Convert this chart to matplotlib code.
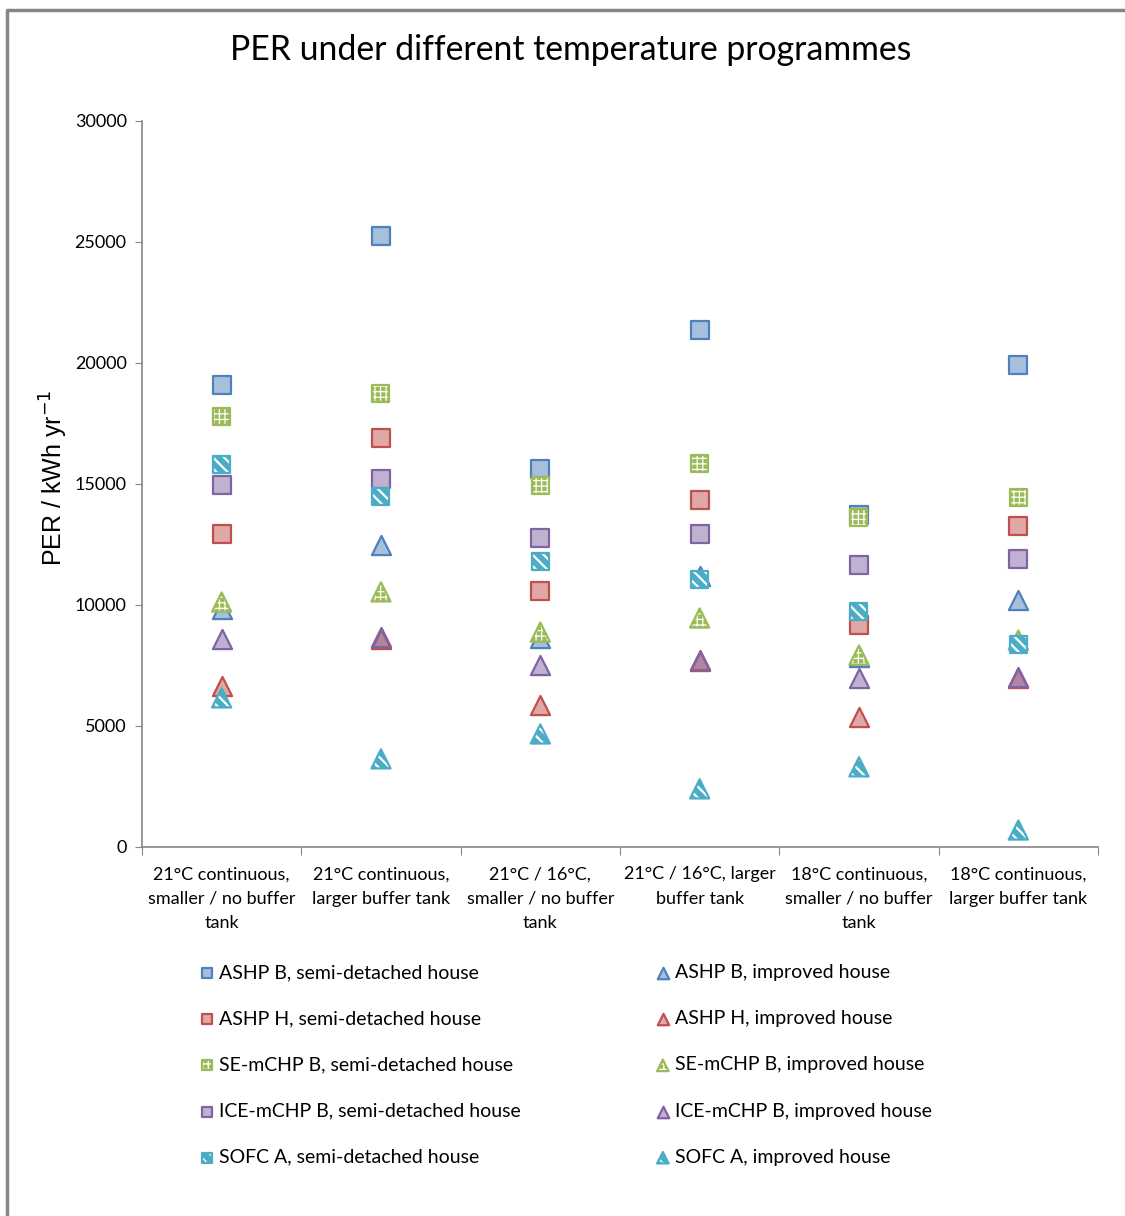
import matplotlib
matplotlib.use("Agg")
import matplotlib.pyplot as plt
from matplotlib.lines import Line2D
from matplotlib.legend_handler import HandlerTuple

categories = ['21°C continuous,\nsmaller / no buffer\ntank',
              '21°C continuous,\nlarger buffer tank',
              '21°C / 16°C,\nsmaller / no buffer\ntank',
              '21°C / 16°C, larger\nbuffer tank',
              '18°C continuous,\nsmaller / no buffer\ntank',
              '18°C continuous,\nlarger buffer tank']

# PER values (kWh/yr), one entry per temperature programme
ashp_b_semi = [19100, 25250, 15600, 21350, 13700, 19900]
ashp_b_imp = [9850, 12480, 8640, 11200, 7850, 10200]
ashp_h_semi = [12930, 16900, 10580, 14340, 9170, 13260]
ashp_h_imp = [6650, 8600, 5870, 7700, 5370, 7000]
se_semi = [17800, 18720, 14920, 15830, 13600, 14460]
se_imp = [10120, 10540, 8880, 9460, 7930, 8550]
ice_semi = [14960, 15210, 12770, 12930, 11650, 11900]
ice_imp = [8600, 8680, 7520, 7730, 6980, 7030]
sofc_semi = [15790, 14500, 11780, 11070, 9710, 8350]
sofc_imp = [6160, 3640, 4670, 2400, 3310, 700]

blue = '#4F81BD'
red = '#C0504D'
green = '#9BBB59'
purple = '#8064A2'
aqua = '#4BACC6'

# (values, label, marker, colour, hatch, hatch line width); later series sit on top
series = [
    (ashp_b_semi, 'ASHP B, semi-detached house', 's', blue, None, 0),
    (ashp_b_imp, 'ASHP B, improved house', '^', blue, None, 0),
    (ashp_h_semi, 'ASHP H, semi-detached house', 's', red, None, 0),
    (ashp_h_imp, 'ASHP H, improved house', '^', red, None, 0),
    (se_semi, 'SE-mCHP B, semi-detached house', 's', green, '+++', 0.9),
    (se_imp, 'SE-mCHP B, improved house', '^', green, '+++', 0.9),
    (ice_semi, 'ICE-mCHP B, semi-detached house', 's', purple, None, 0),
    (ice_imp, 'ICE-mCHP B, improved house', '^', purple, None, 0),
    (sofc_semi, 'SOFC A, semi-detached house', 's', aqua, '\\\\\\', 1.6),
    (sofc_imp, 'SOFC A, improved house', '^', aqua, '\\\\\\', 1.6),
]

fig = plt.figure(figsize=(11.25, 12.16), dpi=100)
ax = fig.add_axes([0.1262, 0.3035, 0.8498, 0.597])

xpos = [i + 0.5 for i in range(len(categories))]
handles = {}
for k, (vals, label, mk, col, hatch, hlw) in enumerate(series):
    size = 150 if mk == 's' else 190
    z = 3 + k * 0.1
    parts = []
    if hatch:
        # solid fill, white hatch over it, then the coloured outline
        parts.append(ax.scatter(xpos, vals, marker=mk, s=size, facecolors=col,
                                edgecolors='none', zorder=z))
        with plt.rc_context({'hatch.linewidth': hlw}):
            parts.append(ax.scatter(xpos, vals, marker=mk, s=size, facecolors='none',
                                    edgecolors='white', linewidths=0, hatch=hatch,
                                    zorder=z + 0.01))
        parts.append(ax.scatter(xpos, vals, marker=mk, s=size, facecolors='none',
                                edgecolors=col, linewidths=1.6, zorder=z + 0.02))
    else:
        face = matplotlib.colors.to_rgba(col, 0.5)
        parts.append(ax.scatter(xpos, vals, marker=mk, s=size, facecolors=face,
                                edgecolors=col, linewidths=1.6, zorder=z))
    handles[label] = tuple(parts)

ax.set_xlim(0, 6)
ax.set_ylim(0, 30000)
ax.set_yticks(range(0, 30001, 5000))
ax.set_xticks(range(0, 7))
ax.set_xticklabels([])
ax.set_xticks(xpos, minor=True)
ax.set_xticklabels(categories, minor=True, fontsize=13, family='Lato', linespacing=1.65)
ax.tick_params(axis='x', which='minor', length=0, pad=14)
ax.tick_params(axis='x', which='major', length=6, color='#868686', direction='out')
ax.tick_params(axis='y', length=5, color='#868686', labelsize=13, pad=6)
for lbl in ax.get_yticklabels():
    lbl.set_family('Lato')
for s in ['top', 'right']:
    ax.spines[s].set_visible(False)
for s in ['left', 'bottom']:
    ax.spines[s].set_color('#868686')
    ax.spines[s].set_linewidth(1.2)

ax.set_ylabel('PER / kWh yr$^{-1}$', fontsize=18, family='Liberation Sans')
ax.yaxis.set_label_coords(-0.075, 0.508)
fig.text(0.507, 0.959, 'PER under different temperature programmes', ha='center',
         va='center', fontsize=24.3, family='Lato')

semi = [s[1] for s in series if s[2] == 's']
imp = [s[1] for s in series if s[2] == '^']
for labs, x0 in [(semi, 0.160), (imp, 0.565)]:
    fig.legend([handles[l] for l in labs], labs, loc='upper left',
               bbox_to_anchor=(x0, 0.2215), frameon=False,
               prop={'family': 'Lato', 'size': 14}, markerscale=0.6,
               handletextpad=0.1, labelspacing=1.5, handlelength=1.0,
               scatterpoints=1, handler_map={tuple: HandlerTuple(ndivide=1, pad=0)})

# outer chart frame
fig.add_artist(Line2D([0.0062, 0.0062, 1.01], [-0.01, 0.9918, 0.9918],
                      transform=fig.transFigure, color='#868686', lw=2.5))

fig.savefig('out.png', dpi=100)
